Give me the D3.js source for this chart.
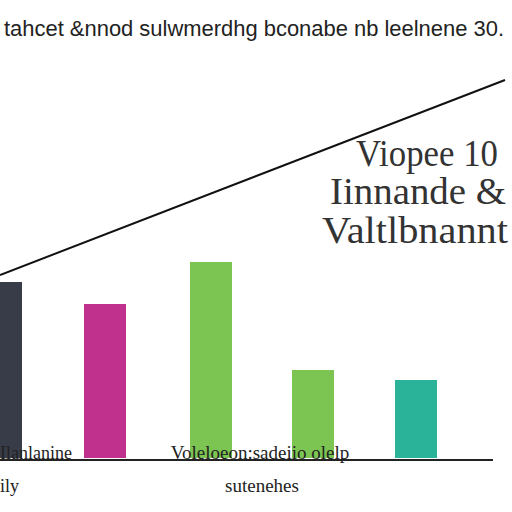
<!DOCTYPE html>
<html><head><meta charset="utf-8">
<script src="https://cdn.jsdelivr.net/npm/d3@7"></script>
<style>body{margin:0;background:#fff}</style></head>
<body><div id="chart"></div>
<script>
(function() {
    let w = 512, h = 512;

    // data
    let categories = ["A", "B", "C", "D", "E"];
    let values = [176, 154, 196, 88, 78];
    let colors = ["#383c48", "#c0318e", "#7cc552", "#7cc552", "#2bb39a"];
    let barX = [-20, 84, 190, 292, 395];
    let trend = [[0, 62], [1, 206]];

    let svg = d3.select("#chart").append("svg")
        .attr("width", w).attr("height", h);

    let y = d3.scaleLinear().domain([0, 250]).range([458, 208]);
    let tx = d3.scaleLinear().domain([0, 1]).range([0, 505]);
    let ty = d3.scaleLinear().domain([62, 206]).range([275, 80]);

    svg.selectAll("rect").data(values).enter().append("rect")
        .attr("x", (d, i) => barX[i])
        .attr("width", 42)
        .attr("y", d => y(d))
        .attr("height", d => y(0) - y(d))
        .attr("fill", (d, i) => colors[i]);

    svg.append("line").attr("x1", 0).attr("x2", 493)
        .attr("y1", y(0) + 2).attr("y2", y(0) + 2)
        .attr("stroke", "#222").attr("stroke-width", 2);

    svg.append("path").datum(trend)
        .attr("d", d3.line().x(d => tx(d[0])).y(d => ty(d[1])))
        .attr("stroke", "#111").attr("stroke-width", 2).attr("fill", "none");

    let txt = (s, x, yy, size, anchor) => svg.append("text")
        .attr("x", x).attr("y", yy).attr("font-size", size)
        .attr("font-family", "Liberation Sans, Arial").attr("fill", "#222")
        .attr("text-anchor", anchor || "start").text(s);

    txt("tahcet &nnod sulwmerdhg bconabe nb leelnene 30.", 4, 36, 22)
        .attr("textLength", 500).attr("lengthAdjust", "spacingAndGlyphs");
    let serif = "Liberation Serif";
    txt("Viopee 10", 356, 166, 38).attr("font-family", serif).attr("fill", "#333")
        .attr("textLength", 142).attr("lengthAdjust", "spacingAndGlyphs");
    txt("Iinnande &", 330, 204, 38).attr("font-family", serif).attr("fill", "#333")
        .attr("textLength", 176).attr("lengthAdjust", "spacingAndGlyphs");
    txt("Valtlbnannt", 322, 243, 38).attr("font-family", serif).attr("fill", "#333")
        .attr("textLength", 186).attr("lengthAdjust", "spacingAndGlyphs");
    txt("Ilanlanine", 0, 459, 18).attr("font-family", serif);
    txt("ily", 0, 492, 18).attr("font-family", serif);
    txt("Voleloeon:sadeiio olelp", 260, 459, 19, "middle").attr("font-family", serif);
    txt("sutenehes", 262, 492, 19, "middle").attr("font-family", serif);
})();
</script></body></html>
